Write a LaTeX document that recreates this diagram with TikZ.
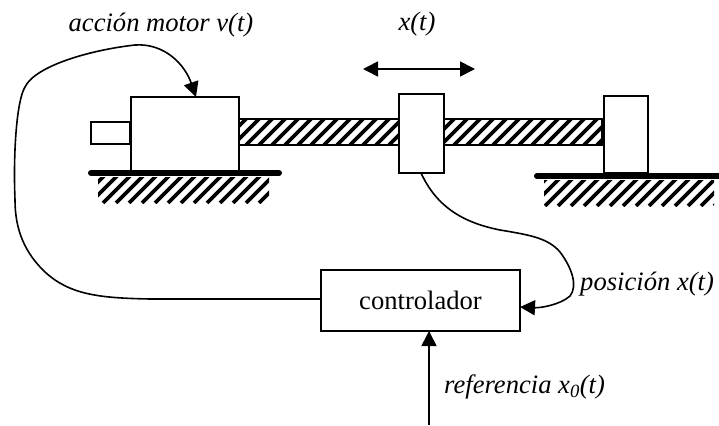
\documentclass[tikz,border=0pt]{standalone}
\usepackage{fontspec}
\setmainfont{Liberation Serif}
\usetikzlibrary{arrows.meta}
\newcommand{\hatchbox}[4]{%
  \begin{scope}
    \clip (#1,#2) rectangle (#3,#4);
    \foreach \hx in {-40,-27,...,720}{\draw[line width=3.6pt] (\hx,#4) -- ++(30,-30);}
  \end{scope}}
\tikzset{
  box/.style={draw,line width=2pt,fill=white,inner sep=0pt,outer sep=0pt,anchor=north west},
  wire/.style={draw,line width=1.6pt},
  tip/.style={-{Triangle[length=15pt,width=15pt]}},
  lab/.style={inner sep=0pt,font=\fontsize{26.6}{28}\selectfont\itshape},
  ground/.style={line width=6pt,line cap=round}
}
\begin{document}
\begin{tikzpicture}[x=1pt,y=-1pt]
\useasboundingbox (0,0) rectangle (719,425);
\hatchbox{238}{119}{602}{145}
\draw[line width=2pt] (238,119) rectangle (602,145);
\hatchbox{98}{177}{269}{203}
\hatchbox{544}{180}{714}{206}
\node[box,minimum width=39pt,minimum height=22pt] (stub) at (91,122) {};
\node[box,minimum width=108pt,minimum height=74pt] (motor) at (131,97) {};
\node[box,minimum width=45pt,minimum height=79pt] (slider) at (399,94) {};
\node[box,minimum width=44pt,minimum height=77pt] (block) at (604,96) {};
\node[box,minimum width=199pt,minimum height=61pt,font=\fontsize{26.6}{28}\selectfont,anchor=center] (ctrl) at (420.5,300.5) {controlador};
\coordinate (g1a) at (91,173); \coordinate (g1b) at (279,173);
\coordinate (g2a) at (537,176); \coordinate (g2b) at (719,176);
\draw[ground] (g1a) -- (g1b);
\draw[ground] (g2a) -- (g2b);
\node[lab] (l1) at (161,25) {acción motor v(t)};
\node[lab] (l2) at (417,24) {x(t)};
\node[lab,anchor=west] (l3) at (580,284) {posición x(t)};
\node[lab,anchor=west] (l4) at (444,387) {referencia x\textsubscript{0}(t)};
\coordinate (a1) at (363,69); \coordinate (a2) at (475,69);
\draw[wire,{Triangle[length=15pt,width=15pt]}-{Triangle[length=15pt,width=15pt]}] (a1) -- (a2);
\coordinate (in) at (429,425);
\draw[wire,tip] (in) -- (ctrl.south -| in);
\coordinate (sl) at (421,173);
\draw[wire,tip] (sl) .. controls (436,205) and (460,222) .. (500,230)
  .. controls (530,235) and (548,238) .. (560,252)
  .. controls (572,268) and (578,286) .. (570,296)
  .. controls (560,305) and (540,308) .. (ctrl.east |- 0,307);
\draw[wire,tip] (ctrl.west |- 0,299) -- (150,299)
  .. controls (100,298) and (70,295) .. (45,272)
  .. controls (25,253) and (15,230) .. (15,200)
  .. controls (13,150) and (17,100) .. (25,87)
  .. controls (35,66) and (90,50) .. (135,45)
  .. controls (165,43) and (185,65) .. (motor.north -| 196,0);
\end{tikzpicture}
\end{document}
